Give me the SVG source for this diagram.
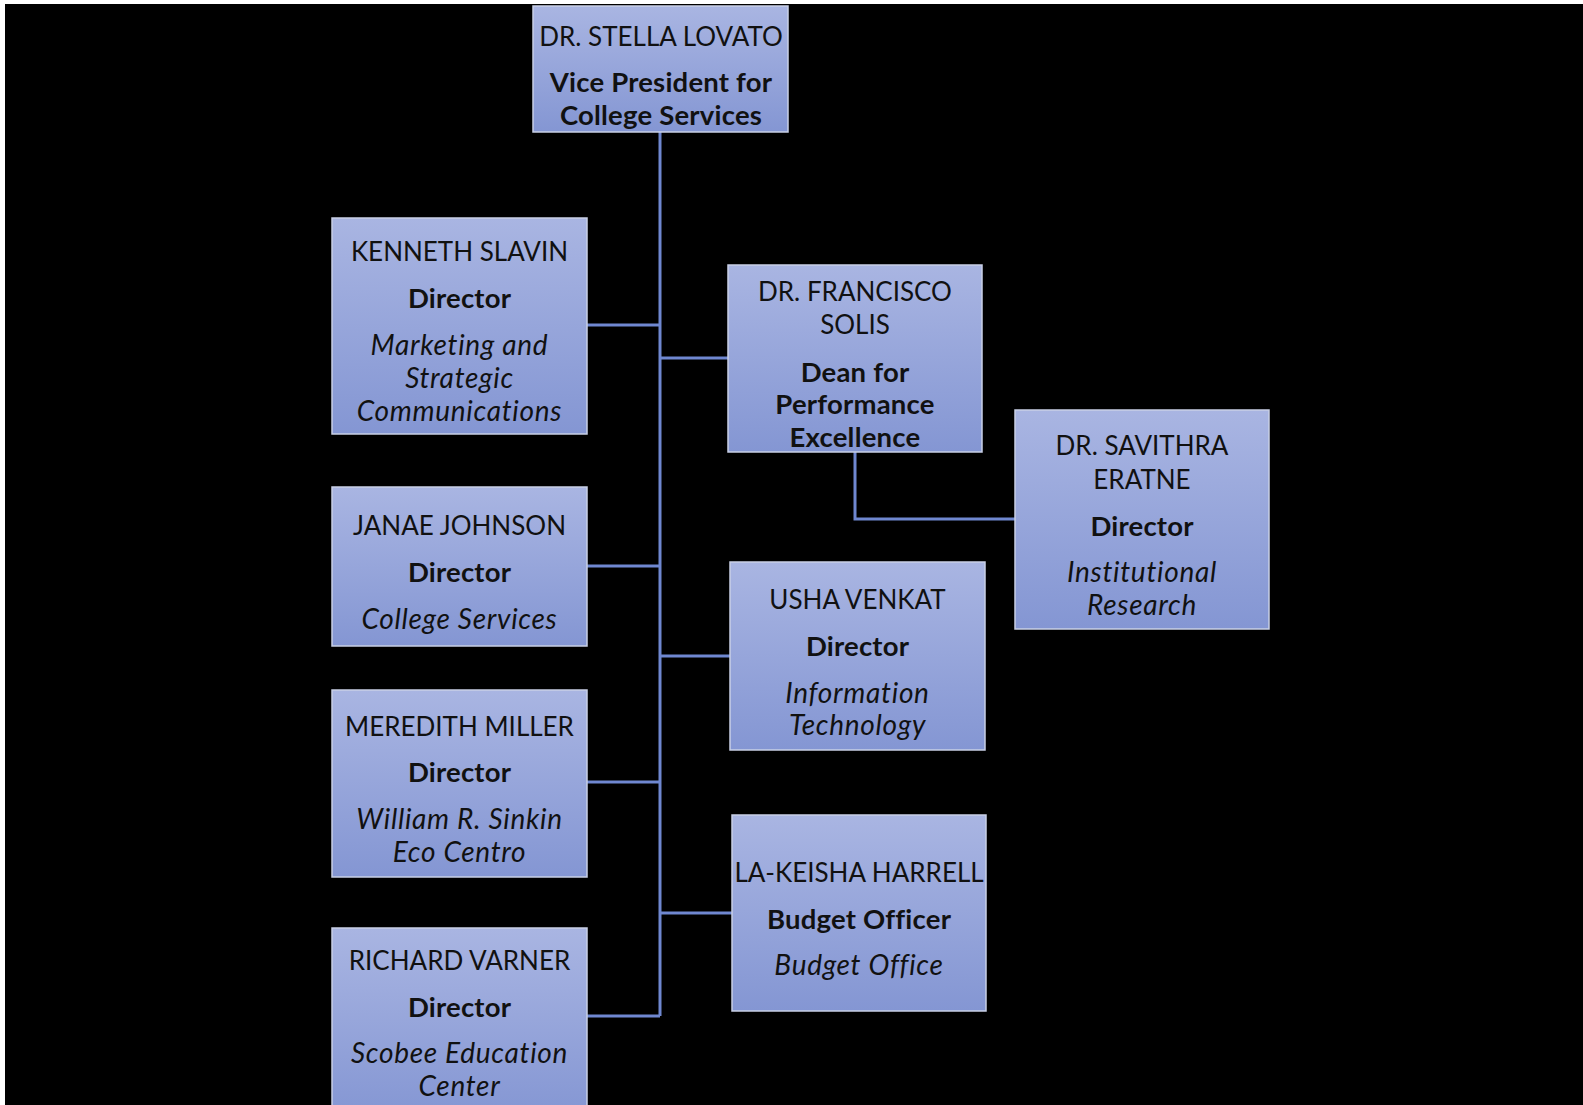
<svg xmlns="http://www.w3.org/2000/svg" width="1583" height="1105" viewBox="0 0 1583 1105">
<defs>
<linearGradient id="g" x1="0" y1="0" x2="0" y2="1">
<stop offset="0" stop-color="#a9b5e2"/>
<stop offset="1" stop-color="#8496d3"/>
</linearGradient>
<style>
.box{fill:url(#g);stroke:#c9d0e6;stroke-width:1.5}
.c{fill:none;stroke:#6f87d0;stroke-width:3}
text{font-family:Lato,"Liberation Sans",sans-serif;font-size:26px;fill:#111;text-anchor:middle;font-variant-ligatures:none}
.b{font-weight:bold;font-size:27.5px;letter-spacing:0.2px}
.i{font-style:italic;font-size:28px;letter-spacing:0.7px}
</style>
</defs>
<rect x="0" y="0" width="1583" height="1105" fill="#ffffff"/>
<rect x="5" y="4" width="1578" height="1101" fill="#000000"/>
<g id="connectors">
<path class="c" d="M660 132 V1016"/>
<path class="c" d="M587 325 H660"/>
<path class="c" d="M660 358 H728"/>
<path class="c" d="M587 566 H660"/>
<path class="c" d="M660 656 H730"/>
<path class="c" d="M587 782 H660"/>
<path class="c" d="M660 913 H732"/>
<path class="c" d="M587 1016 H660"/>
<path class="c" d="M855 452 V519 H1015"/>
</g>
<g id="n-lovato">
<rect class="box" x="533" y="6" width="255" height="126"/>
<text x="661" y="45.5">DR. STELLA LOVATO</text>
<text class="b" x="661" y="91.5">Vice President for</text>
<text class="b" x="661" y="124.5">College Services</text>
</g>
<g id="n-slavin">
<rect class="box" x="332" y="218" width="255" height="216"/>
<text x="459.5" y="260.5">KENNETH SLAVIN</text>
<text class="b" x="459.5" y="307.5">Director</text>
<text class="i" x="459.5" y="354.5">Marketing and</text>
<text class="i" x="459.5" y="387.5">Strategic</text>
<text class="i" x="459.5" y="420.5">Communications</text>
</g>
<g id="n-johnson">
<rect class="box" x="332" y="487" width="255" height="159"/>
<text x="459.5" y="534.5">JANAE JOHNSON</text>
<text class="b" x="459.5" y="581.5">Director</text>
<text class="i" x="459.5" y="628.5">College Services</text>
</g>
<g id="n-miller">
<rect class="box" x="332" y="690" width="255" height="187"/>
<text x="459.5" y="735.5">MEREDITH MILLER</text>
<text class="b" x="459.5" y="781.5">Director</text>
<text class="i" x="459.5" y="828.5">William R. Sinkin</text>
<text class="i" x="459.5" y="861.5">Eco Centro</text>
</g>
<g id="n-varner">
<rect class="box" x="332" y="928" width="255" height="190"/>
<text x="459.5" y="969.5">RICHARD VARNER</text>
<text class="b" x="459.5" y="1016.5">Director</text>
<text class="i" x="459.5" y="1062.5">Scobee Education</text>
<text class="i" x="459.5" y="1095.5">Center</text>
</g>
<g id="n-solis">
<rect class="box" x="728" y="265" width="254" height="187"/>
<text x="855" y="300.5">DR. FRANCISCO</text>
<text x="855" y="333.5">SOLIS</text>
<text class="b" x="855" y="381.5">Dean for</text>
<text class="b" x="855" y="413.5">Performance</text>
<text class="b" x="855" y="446.5">Excellence</text>
</g>
<g id="n-eratne">
<rect class="box" x="1015" y="410" width="254" height="219"/>
<text x="1142" y="454.5">DR. SAVITHRA</text>
<text x="1142" y="488.5">ERATNE</text>
<text class="b" x="1142" y="535.5">Director</text>
<text class="i" x="1142" y="581.5">Institutional</text>
<text class="i" x="1142" y="614.5">Research</text>
</g>
<g id="n-venkat">
<rect class="box" x="730" y="562" width="255" height="188"/>
<text x="857.5" y="608.5">USHA VENKAT</text>
<text class="b" x="857.5" y="655.5">Director</text>
<text class="i" x="857.5" y="702.5">Information</text>
<text class="i" x="857.5" y="734.5">Technology</text>
</g>
<g id="n-harrell">
<rect class="box" x="732" y="815" width="254" height="196"/>
<text x="859" y="881.5">LA-KEISHA HARRELL</text>
<text class="b" x="859" y="928.5">Budget Officer</text>
<text class="i" x="859" y="974.5">Budget Office</text>
</g>
</svg>
